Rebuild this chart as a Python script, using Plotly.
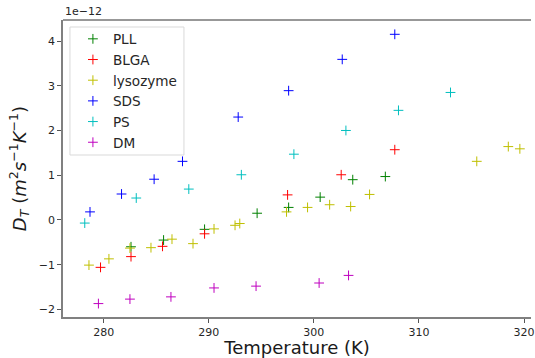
import plotly.graph_objects as go

# Values in units of 1e-12 m^2 s^-1 K^-1
pll_T = [282.6, 285.7, 289.6, 294.6, 297.6, 300.6, 303.7, 306.8]
pll_D = [-0.60, -0.45, -0.21, 0.15, 0.28, 0.51, 0.90, 0.97]

blga_T = [279.7, 282.6, 285.6, 289.6, 297.5, 302.6, 307.7]
blga_D = [-1.06, -0.82, -0.59, -0.31, 0.56, 1.01, 1.57]

lyso_T = [278.6, 280.5, 282.5, 284.5, 286.5, 288.5, 290.5, 292.5, 292.95, 297.4, 299.4,
          301.5, 303.5, 305.3, 315.5, 318.5, 319.6]
lyso_D = [-1.01, -0.87, -0.63, -0.62, -0.43, -0.53, -0.20, -0.12, -0.08, 0.18, 0.28,
          0.34, 0.30, 0.57, 1.31, 1.64, 1.59]

sds_T = [278.7, 281.7, 284.8, 287.5, 292.8, 297.6, 302.7, 307.7]
sds_D = [0.18, 0.58, 0.91, 1.31, 2.30, 2.89, 3.59, 4.15]

ps_T = [278.2, 283.1, 288.1, 293.1, 298.1, 303.05, 308.05, 313.0]
ps_D = [-0.07, 0.49, 0.69, 1.01, 1.47, 2.00, 2.45, 2.85]

dm_T = [279.5, 282.5, 286.4, 290.5, 294.5, 300.5, 303.3]
dm_D = [-1.87, -1.77, -1.72, -1.52, -1.48, -1.41, -1.24]

series = [
    ("PLL", pll_T, pll_D, "#008000"),
    ("BLGA", blga_T, blga_D, "#ff0000"),
    ("lysozyme", lyso_T, lyso_D, "#bfbf00"),
    ("SDS", sds_T, sds_D, "#0000ff"),
    ("PS", ps_T, ps_D, "#00bfbf"),
    ("DM", dm_T, dm_D, "#bf00bf"),
]

x_ticks = [280, 290, 300, 310, 320]
y_ticks = [-2, -1, 0, 1, 2, 3, 4]

fig = go.Figure()
for name, t, d, c in series:
    fig.add_trace(go.Scatter(
        x=t, y=d, mode="markers", name=name,
        marker=dict(symbol="cross-thin", size=7, color=c,
                    line=dict(color=c, width=1)),
    ))

# plot area: x 63..535 (472 px), y 20..317 (297 px)
PW, PH = 472.0, 297.0
def px(x):
    return (x - 63) / PW
def py(y):
    return (317 - y) / PH

fig.update_layout(
    width=535, height=358,
    margin=dict(l=63, r=0, t=20, b=41),
    paper_bgcolor="white", plot_bgcolor="white",
    font=dict(family="DejaVu Sans", color="#262626", size=11),
    showlegend=True,
    legend=dict(
        x=px(73), y=py(23.5), xanchor="left", yanchor="top",
        bgcolor="rgba(0,0,0,0)", borderwidth=0,
        font=dict(family="DejaVu Sans", size=13.6, color="#262626"),
        itemwidth=30, tracegroupgap=0,
    ),
    xaxis=dict(
        range=[276.13, 320.66], tickvals=x_ticks,
        ticktext=[str(v) for v in x_ticks],
        ticklabeloverflow="allow",
        showgrid=False, zeroline=False,
        showline=True, linecolor="#808080", linewidth=1.5, mirror=False,
        ticks="outside", ticklen=4, tickcolor="#555555",
        title=dict(text="Temperature (K)", font=dict(size=18, family="DejaVu Sans", color="#1a1a1a"), standoff=5),
    ),
    yaxis=dict(
        range=[-2.17, 4.47], tickvals=y_ticks,
        ticktext=[str(v).replace("-", "−") for v in y_ticks],
        showgrid=False, zeroline=False,
        showline=True, linecolor="#808080", linewidth=1.5, mirror=False,
        ticks="outside", ticklen=4, tickcolor="#555555",
        title=dict(text="<i>D</i><sub><i>T</i></sub> (<i>m</i><sup>2</sup><i>s</i><sup>−1</sup><i>K</i><sup>−1</sup>)",
                   font=dict(size=18, family="DejaVu Sans", color="#1a1a1a"), standoff=8),
    ),
    shapes=[
        dict(type="rect", xref="paper", yref="paper", x0=px(70), x1=px(185), y0=py(155), y1=py(27),
             line=dict(color="#d9d9d9", width=1), fillcolor="rgba(255,255,255,0.8)", layer="below"),
        dict(type="line", xref="paper", yref="paper", x0=0, x1=1, y0=1, y1=1,
             line=dict(color="#333333", width=1.2)),
    ],
    annotations=[dict(text="1e−12", xref="paper", yref="paper", x=0, y=1,
                      xanchor="left", yanchor="bottom", showarrow=False,
                      font=dict(size=11, family="DejaVu Sans", color="#262626"))],
)

fig.write_html("out.html", config={"displayModeBar": False},
               post_script="document.body.style.margin='0';")
